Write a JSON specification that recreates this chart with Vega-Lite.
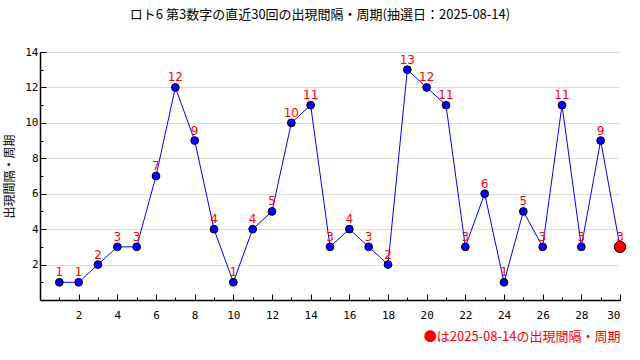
{
  "$schema": "https://vega.github.io/schema/vega-lite/v6.json",
  "width": 580,
  "height": 248,
  "autosize": {"type": "none"},
  "padding": {"left": 40, "top": 52, "right": 20, "bottom": 60},
  "background": "white",
  "config": {"view": {"stroke": null}},
  "title": {
    "text": "ロト6 第3数字の直近30回の出現間隔・周期(抽選日：2025-08-14)",
    "font": "Noto Sans CJK JP",
    "fontSize": 13,
    "fontWeight": "normal",
    "color": "black",
    "anchor": "middle",
    "offset": 24,
    "dx": -10
  },
  "data": {
    "values": [
      {"n": 1, "v": 1, "kind": "past"},
      {"n": 2, "v": 1, "kind": "past"},
      {"n": 3, "v": 2, "kind": "past"},
      {"n": 4, "v": 3, "kind": "past"},
      {"n": 5, "v": 3, "kind": "past"},
      {"n": 6, "v": 7, "kind": "past"},
      {"n": 7, "v": 12, "kind": "past"},
      {"n": 8, "v": 9, "kind": "past"},
      {"n": 9, "v": 4, "kind": "past"},
      {"n": 10, "v": 1, "kind": "past"},
      {"n": 11, "v": 4, "kind": "past"},
      {"n": 12, "v": 5, "kind": "past"},
      {"n": 13, "v": 10, "kind": "past"},
      {"n": 14, "v": 11, "kind": "past"},
      {"n": 15, "v": 3, "kind": "past"},
      {"n": 16, "v": 4, "kind": "past"},
      {"n": 17, "v": 3, "kind": "past"},
      {"n": 18, "v": 2, "kind": "past"},
      {"n": 19, "v": 13, "kind": "past"},
      {"n": 20, "v": 12, "kind": "past"},
      {"n": 21, "v": 11, "kind": "past"},
      {"n": 22, "v": 3, "kind": "past"},
      {"n": 23, "v": 6, "kind": "past"},
      {"n": 24, "v": 1, "kind": "past"},
      {"n": 25, "v": 5, "kind": "past"},
      {"n": 26, "v": 3, "kind": "past"},
      {"n": 27, "v": 11, "kind": "past"},
      {"n": 28, "v": 3, "kind": "past"},
      {"n": 29, "v": 9, "kind": "past"},
      {"n": 30, "v": 3, "kind": "latest"}
    ]
  },
  "layer": [
    {
      "mark": {"type": "line", "color": "#0000ff", "strokeWidth": 1},
      "encoding": {
        "x": {
          "field": "n", "type": "quantitative",
          "scale": {"domain": [0, 30], "nice": false, "zero": false},
          "axis": {
            "orient": "bottom", "values": [1,2,3,4,5,6,7,8,9,10,11,12,13,14,15,16,17,18,19,20,21,22,23,24,25,26,27,28,29,30],
            "labels": false, "domain": false, "grid": false, "tickSize": -3, "tickColor": "black", "title": null
          }
        },
        "y": {
          "field": "v", "type": "quantitative",
          "scale": {"domain": [0, 14], "nice": false},
          "axis": {
            "orient": "left", "values": [1,2,3,4,5,6,7,8,9,10,11,12,13,14],
            "labels": false, "domain": false, "grid": false, "tickSize": -3, "tickColor": "black", "title": null
          }
        }
      }
    },
    {
      "mark": {"type": "text", "color": "#ff0000", "dy": -10, "fontSize": 12, "font": "DejaVu Sans"},
      "encoding": {
        "x": {"field": "n", "type": "quantitative", "axis": null},
        "y": {"field": "v", "type": "quantitative", "axis": null},
        "text": {"field": "v", "type": "quantitative"}
      }
    },
    {
      "mark": {"type": "point", "filled": true, "stroke": "black", "strokeWidth": 1, "opacity": 1, "shape": "circle"},
      "encoding": {
        "x": {
          "field": "n", "type": "quantitative",
          "axis": {
            "orient": "bottom", "values": [2,4,6,8,10,12,14,16,18,20,22,24,26,28,30],
            "domain": true, "domainColor": "black", "domainWidth": 1.5, "grid": false,
            "tickSize": -6, "tickColor": "black",
            "labelFont": "DejaVu Sans Mono", "labelFontSize": 11, "labelColor": "black", "labelPadding": 15,
            "title": "●は2025-08-14の出現間隔・周期",
            "titleColor": "#ff0000", "titleFont": "Noto Sans CJK JP", "titleFontSize": 13, "titleFontWeight": "normal",
            "titleAnchor": "end", "titlePadding": 10
          }
        },
        "y": {
          "field": "v", "type": "quantitative",
          "axis": {
            "orient": "left", "values": [2,4,6,8,10,12,14],
            "domain": true, "domainColor": "black", "domainWidth": 1.5, "grid": true, "gridColor": "#dddddd",
            "tickSize": -6, "tickColor": "black",
            "labelFont": "DejaVu Sans Mono", "labelFontSize": 11, "labelColor": "black", "labelPadding": 8,
            "title": "出現間隔・周期",
            "titleColor": "black", "titleFont": "Noto Sans CJK JP", "titleFontSize": 12, "titleFontWeight": "normal",
            "titlePadding": 8
          }
        },
        "color": {"field": "kind", "type": "nominal", "scale": {"domain": ["past", "latest"], "range": ["#0000ff", "#ff0000"]}, "legend": null},
        "size": {"field": "kind", "type": "nominal", "scale": {"domain": ["past", "latest"], "range": [60, 130]}, "legend": null}
      }
    }
  ],
  "resolve": {"axis": {"x": "independent", "y": "independent"}}
}
